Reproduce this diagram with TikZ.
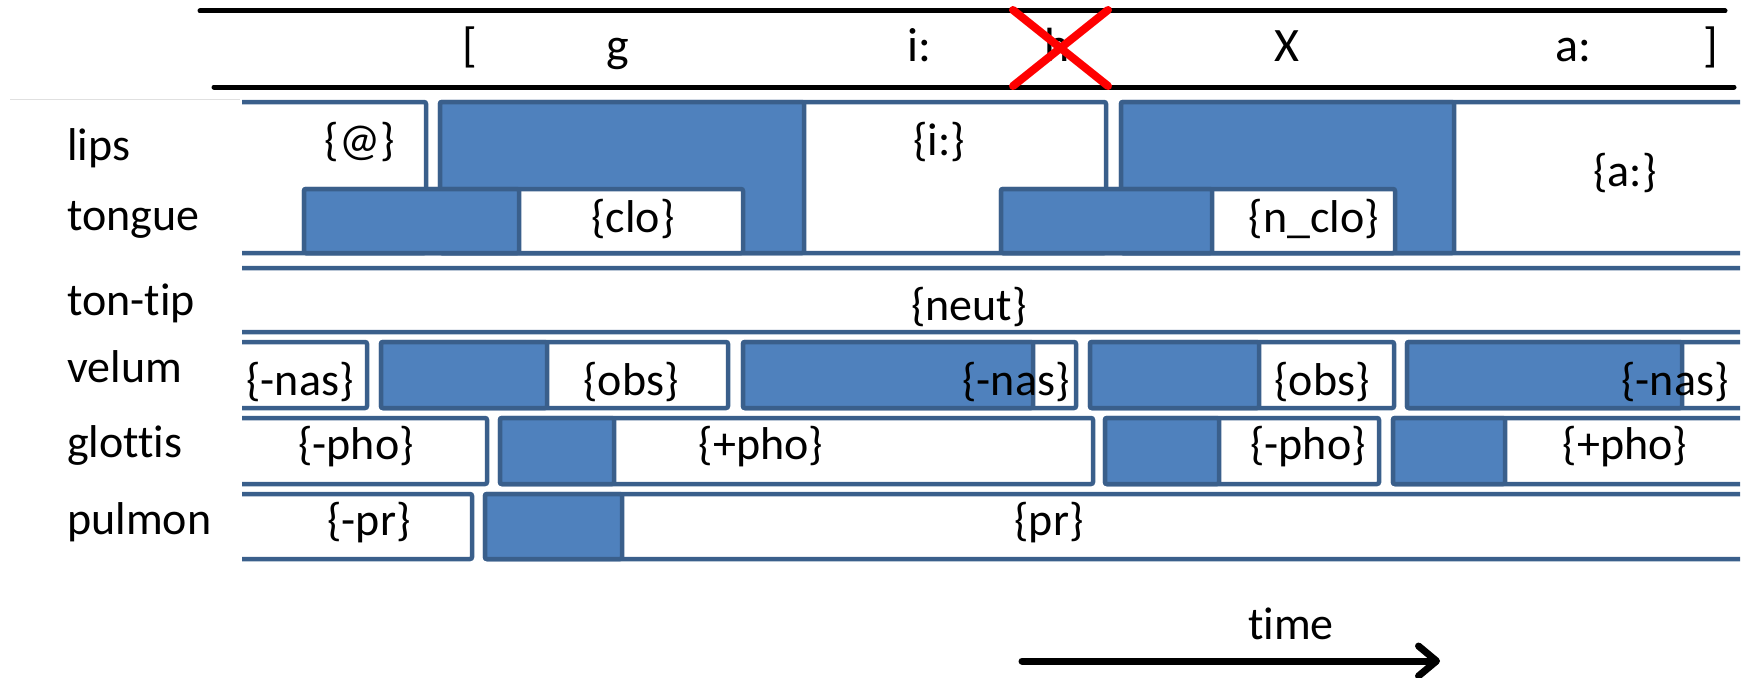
\documentclass[tikz,border=0pt]{standalone}
\usepackage{fontspec}
\setmainfont{Carlito}[Ligatures={NoCommon,NoRequired,NoContextual}]
\usetikzlibrary{arrows.meta}
\definecolor{bfill}{HTML}{4F81BD}
\definecolor{bline}{HTML}{3A5F8B}
\definecolor{xred}{HTML}{FF0000}
\begin{document}
\begin{tikzpicture}[x=1pt,y=-1pt,
  lbl/.style={anchor=base west,inner sep=0pt,font=\fontsize{46}{50}\selectfont},
  txt/.style={anchor=base,inner sep=0pt,font=\fontsize{46}{50}\selectfont},
  hdr/.style={anchor=base,inner sep=0pt,font=\fontsize{48}{52}\selectfont},
  wbox/.style={draw=bline,line width=4.5pt,fill=white,rounded corners=2pt},
  bbox/.style={draw=bline,line width=4.5pt,fill=bfill,rounded corners=2pt},
  hrule/.style={line width=5pt,line cap=round},
  cross/.style={draw=xred,line width=8pt,line cap=round},
  faint/.style={draw=black!12,line width=1pt},
  tarrow/.style={line width=7pt,line cap=round,-{Straight Barb[length=18pt,width=30pt,round]}}]
\useasboundingbox (0,0) rectangle (1744,677);
% header
\coordinate (t1) at (200,11);
\coordinate (t2) at (1725,11);
\coordinate (b1) at (214,87);
\coordinate (b2) at (1734,87);
\draw[hrule] (t1) -- (t2);
\draw[hrule] (b1) -- (b2);
\node[hdr] (pa) at (470,62) {[};
\node[hdr] (pg) at (618,62) {g};
\node[hdr] (pi) at (919,62) {i:};
\node[hdr] (ph) at (1057,62) {h};
\node[hdr] (px) at (1287,62) {X};
\node[hdr] (pA) at (1573,62) {a:};
\node[hdr] (pb) at (1711,62) {]};
\draw[cross] (1013,10) -- (1108,86);
\draw[cross] (1108,10) -- (1013,86);
\draw[faint] (10,99) -- (240,99);
\draw[faint] (1739,102) -- (1739,253);
% boxes
\begin{scope}
\clip (242,80) rectangle (1740,600);
% lips
\draw[wbox] (180,102) rectangle (426,253);
\draw[wbox] (440,102) rectangle (1106,253);
\draw[bbox] (440,102) rectangle (804,253);
\draw[wbox] (1121,102) rectangle (1800,253);
\draw[bbox] (1121,102) rectangle (1454,253);
% tongue
\draw[wbox] (304,189) rectangle (743,253);
\draw[bbox] (304,189) rectangle (519,253);
\draw[wbox] (1001,189) rectangle (1395,253);
\draw[bbox] (1001,189) rectangle (1212,253);
% ton-tip
\draw[wbox] (180,268) rectangle (1800,332);
% velum
\draw[wbox] (180,342) rectangle (367,408);
\draw[wbox] (381,342) rectangle (728,408);
\draw[bbox] (381,342) rectangle (547,408);
\draw[wbox] (743,342) rectangle (1076,408);
\draw[bbox] (743,342) rectangle (1033,408);
\draw[wbox] (1090,342) rectangle (1394,408);
\draw[bbox] (1090,342) rectangle (1259,408);
\draw[wbox] (1407,342) rectangle (1800,408);
\draw[bbox] (1407,342) rectangle (1682,408);
% glottis
\draw[wbox] (180,418) rectangle (487,484);
\draw[wbox] (500,418) rectangle (1093,484);
\draw[bbox] (500,418) rectangle (614,484);
\draw[wbox] (1105,418) rectangle (1379,484);
\draw[bbox] (1105,418) rectangle (1219,484);
\draw[wbox] (1393,418) rectangle (1800,484);
\draw[bbox] (1393,418) rectangle (1505,484);
% pulmon
\draw[wbox] (180,494) rectangle (472,559);
\draw[wbox] (485,494) rectangle (1800,559);
\draw[bbox] (485,494) rectangle (622,559);
\end{scope}
% row labels
\node[lbl] (llips) at (67,160) {lips};
\node[lbl] (ltongue) at (67,230) {tongue};
\node[lbl] (ltontip) at (67,315) {ton-tip};
\node[lbl] (lvelum) at (67,382) {velum};
\node[lbl] (lglottis) at (67,457) {glottis};
\node[lbl] (lpulmon) at (67,534) {pulmon};
% box texts
\node[txt] (s1) at (360,155) {\{@\}};
\node[txt] (s2) at (939,155) {\{i:\}};
\node[txt] (s3) at (1625,186) {\{a:\}};
\node[txt] (s4) at (633,232) {\{clo\}};
\node[txt] (s5) at (1314,232) {\{n\_clo\}};
\node[txt] (s6) at (969,320) {\{neut\}};
\node[txt] (s7) at (300,395) {\{-nas\}};
\node[txt] (s8) at (631,395) {\{obs\}};
\node[txt] (s9) at (1016,395) {\{-nas\}};
\node[txt] (s10) at (1322,395) {\{obs\}};
\node[txt] (s11) at (1675,395) {\{-nas\}};
\node[txt] (s12) at (356,459) {\{-pho\}};
\node[txt] (s13) at (761,459) {\{+pho\}};
\node[txt] (s14) at (1308,459) {\{-pho\}};
\node[txt] (s15) at (1625,459) {\{+pho\}};
\node[txt] (s16) at (369,535) {\{-pr\}};
\node[txt] (s17) at (1049,535) {\{pr\}};
% time arrow
\node[txt] (time) at (1291,639) {time};
\coordinate (ts) at (1022,661);
\coordinate (te) at (1440,661);
\draw[tarrow] (ts) -- (te);
\end{tikzpicture}
\end{document}
